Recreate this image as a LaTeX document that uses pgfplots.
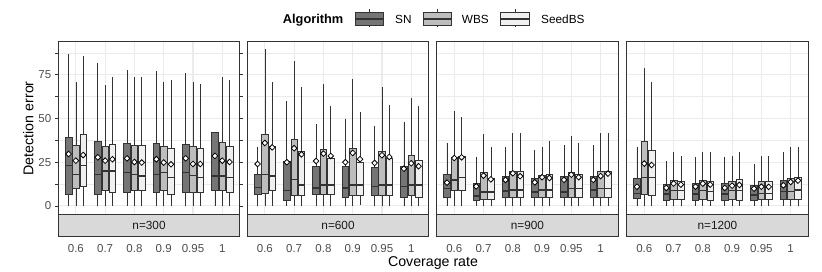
\documentclass[border=0pt]{standalone}
\usepackage{pgfplots}
\pgfplotsset{compat=1.18}
\usepgfplotslibrary{statistics}
\usepackage{fontspec}
\setmainfont{Liberation Sans}
\definecolor{gTwenty}{HTML}{333333}
\definecolor{gThirty}{HTML}{4D4D4D}
\definecolor{gGrid}{HTML}{EBEBEB}
\definecolor{gStrip}{HTML}{D9D9D9}
\definecolor{gTen}{HTML}{1A1A1A}
\definecolor{cSN}{HTML}{757575}
\definecolor{cWBS}{HTML}{BDBDBD}
\definecolor{cSeed}{HTML}{F0F0F0}
% position, fill, lower whisker, lower quartile, median, upper quartile, upper whisker
\newcommand{\bx}[7]{\addplot[draw=gTwenty, fill=#2, line width=0.65pt, boxplot prepared={draw direction=y, draw position=#1, lower whisker=#3, lower quartile=#4, median=#5, upper quartile=#6, upper whisker=#7, box extend=0.225, whisker extend=0}] coordinates {};}
\newcommand{\means}[1]{\addplot[only marks, mark=square*, mark size=2.0pt, mark options={rotate=45, fill=white, draw=black, line width=0.8pt}] coordinates {#1};}
\newcommand{\strip}[1]{%
  \draw[fill=gStrip, draw=gTwenty, line width=0.75pt] (rel axis cs:0,0) rectangle ([yshift=-22pt]rel axis cs:1,0);
  \node[font=\fontsize{11.8}{13}\selectfont, text=gTen, inner sep=0pt] at ([yshift=-11pt]rel axis cs:0.5,0) {#1};}
\pgfplotsset{panel/.style={
  scale only axis, width=181.5pt, height=172.3pt,
  anchor=south west,
  xmin=0.4, xmax=6.6, ymin=-4.6, ymax=93.9,
  xtick={1,2,3,4,5,6}, xticklabels={0.6,0.7,0.8,0.9,0.95,1},
  ytick={0,25,50,75}, minor ytick={12.5,37.5,62.5,87.5},
  grid=both,
  major grid style={draw=gGrid, line width=1.1pt},
  minor grid style={draw=gGrid, line width=0.55pt},
  axis line style={draw=gTwenty, line width=0.75pt},
  tick align=outside, major tick length=3.5pt,
  xtick style={draw=none},
  ytick style={draw=gTwenty, line width=0.75pt},
  /pgf/number format/assume math mode=true,
  ticklabel style={font=\fontsize{11.5}{13}\selectfont, text=gThirty},
  xticklabel style={anchor=base, yshift=-34.9pt},
  clip=false,
  boxplot/draw direction=y,
  boxplot/every median/.style={line width=1.4pt},
}}
\newcommand{\legkey}[2]{%
  \draw[gTwenty, line width=0.65pt] (#1+14.1pt,244.7pt) -- (#1+14.1pt,262.7pt);
  \draw[gTwenty, fill=#2, line width=0.65pt] (#1,247pt) rectangle (#1+28.2pt,259.3pt);
  \draw[gTwenty, line width=1.2pt] (#1,253pt) -- (#1+28.2pt,253pt);}
\begin{document}
\begin{tikzpicture}
\path[use as bounding box] (0,0) rectangle (822pt,272pt);
% ---------- n=300
\begin{axis}[panel, at={(58.3pt,58pt)}]
\strip{n=300}
\bx{0.75}{cSN}{0}{6.7}{23.0}{39.2}{86.9}
\bx{1.00}{cWBS}{0}{10.1}{17.9}{34.9}{70.7}
\bx{1.25}{cSeed}{0}{11.0}{23.0}{40.8}{85.7}
\bx{1.75}{cSN}{0}{6.7}{17.9}{37.1}{81.9}
\bx{2.00}{cWBS}{0}{9.0}{20.0}{33.9}{69.0}
\bx{2.25}{cSeed}{0}{7.8}{20.0}{35.2}{73.7}
\bx{2.75}{cSN}{0}{7.8}{19.0}{36.0}{77.8}
\bx{3.00}{cWBS}{0}{9.0}{17.9}{34.9}{73.7}
\bx{3.25}{cSeed}{0}{9.0}{17.1}{34.9}{73.7}
\bx{3.75}{cSN}{0}{7.8}{17.9}{36.0}{77.0}
\bx{4.00}{cWBS}{0}{9.0}{19.0}{33.9}{70.7}
\bx{4.25}{cSeed}{0}{6.7}{16.2}{33.0}{72.0}
\bx{4.75}{cSN}{0}{7.8}{19.0}{35.2}{75.8}
\bx{5.00}{cWBS}{0}{7.8}{17.5}{33.9}{70.7}
\bx{5.25}{cSeed}{0}{7.8}{16.2}{33.0}{69.8}
\bx{5.75}{cSN}{0}{9.0}{17.1}{42.1}{42.1}
\bx{6.00}{cWBS}{0}{9.0}{17.1}{36.2}{73.7}
\bx{6.25}{cSeed}{0}{7.8}{16.2}{33.9}{72.0}
\means{(0.75,29.7)(1.00,25.9)(1.25,29.1)(1.75,27.8)(2.00,25.9)(2.25,26.7)(2.75,27.2)(3.00,25.1)(3.25,24.8)(3.75,26.7)(4.00,24.8)(4.25,23.8)(4.75,27.2)(5.00,24.0)(5.25,24.0)(5.75,28.6)(6.00,25.9)(6.25,25.1)}
\end{axis}
% ---------- n=600
\begin{axis}[panel, at={(247.3pt,58pt)}, yticklabels={}, ytick style={draw=none}]
\strip{n=600}
\bx{0.75}{cSN}{0}{6.9}{10.5}{17.9}{33.9}
\bx{1.00}{cWBS}{0}{7.2}{17.9}{40.8}{89.5}
\bx{1.25}{cSeed}{0}{9.0}{17.1}{33.9}{70.7}
\bx{1.75}{cSN}{0}{3.0}{9.0}{25.7}{59.8}
\bx{2.00}{cWBS}{0}{5.9}{15.2}{38.1}{82.7}
\bx{2.25}{cSeed}{0}{5.9}{12.0}{31.2}{67.8}
\bx{2.75}{cSN}{0}{6.9}{10.3}{22.9}{46.9}
\bx{3.00}{cWBS}{0}{6.9}{12.0}{32.6}{69.9}
\bx{3.25}{cSeed}{0}{6.9}{12.0}{27.0}{57.0}
\bx{3.75}{cSN}{0}{5.1}{10.3}{22.9}{49.9}
\bx{4.00}{cWBS}{0}{6.2}{12.0}{33.0}{72.8}
\bx{4.25}{cSeed}{0.5}{6.2}{12.0}{25.1}{53.9}
\bx{4.75}{cSN}{0}{6.2}{11.2}{22.1}{45.7}
\bx{5.00}{cWBS}{0}{6.2}{12.0}{31.2}{67.8}
\bx{5.25}{cSeed}{0}{6.2}{12.0}{27.0}{57.9}
\bx{5.75}{cSN}{0}{5.1}{11.2}{22.9}{47.8}
\bx{6.00}{cWBS}{0}{6.2}{12.0}{29.0}{61.7}
\bx{6.25}{cSeed}{0}{5.1}{12.0}{26.1}{57.0}
\means{(0.75,24.0)(1.00,36.0)(1.25,33.5)(1.75,25.0)(2.00,33.0)(2.25,29.5)(2.75,25.7)(3.00,29.9)(3.25,28.6)(3.75,25.0)(4.00,30.3)(4.25,26.7)(4.75,24.6)(5.00,29.0)(5.25,28.0)(5.75,21.3)(6.00,24.4)(6.25,22.7)}
\end{axis}
% ---------- n=900
\begin{axis}[panel, at={(436.7pt,58pt)}, yticklabels={}, ytick style={draw=none}]
\strip{n=900}
\bx{0.75}{cSN}{0}{5.0}{10.1}{18.1}{36.0}
\bx{1.00}{cWBS}{0}{9.1}{14.9}{28.0}{54.1}
\bx{1.25}{cSeed}{0}{9.1}{16.4}{28.4}{50.7}
\bx{1.75}{cSN}{0}{3.0}{5.7}{13.0}{27.8}
\bx{2.00}{cWBS}{0}{4.0}{8.0}{19.0}{40.9}
\bx{2.25}{cSeed}{0}{4.0}{8.0}{16.0}{33.7}
\bx{2.75}{cSN}{0}{5.0}{8.6}{17.0}{33.7}
\bx{3.00}{cWBS}{0}{5.0}{9.1}{20.0}{41.7}
\bx{3.25}{cSeed}{0}{5.0}{9.1}{20.0}{41.7}
\bx{3.75}{cSN}{0}{5.0}{8.0}{16.0}{31.8}
\bx{4.00}{cWBS}{0}{5.0}{9.1}{17.5}{33.7}
\bx{4.25}{cSeed}{0}{5.0}{9.1}{18.1}{37.0}
\bx{4.75}{cSN}{0}{5.0}{8.0}{17.0}{34.7}
\bx{5.00}{cWBS}{0}{5.0}{10.1}{19.0}{39.8}
\bx{5.25}{cSeed}{0}{5.0}{10.1}{18.1}{35.8}
\bx{5.75}{cSN}{0}{5.0}{9.1}{17.0}{34.7}
\bx{6.00}{cWBS}{0}{5.0}{10.1}{20.0}{41.7}
\bx{6.25}{cSeed}{0}{5.0}{10.1}{20.0}{41.7}
\means{(0.75,13.3)(1.00,27.4)(1.25,27.8)(1.75,11.2)(2.00,17.3)(2.25,15.2)(2.75,14.9)(3.00,18.7)(3.25,17.0)(3.75,13.5)(4.00,16.4)(4.25,16.0)(4.75,14.9)(5.00,17.9)(5.25,16.4)(5.75,14.9)(6.00,17.1)(6.25,18.5)}
\end{axis}
% ---------- n=1200
\begin{axis}[panel, at={(626.7pt,58pt)}, yticklabels={}, ytick style={draw=none}]
\strip{n=1200}
\bx{0.75}{cSN}{0}{4.2}{7.2}{16.0}{33.7}
\bx{1.00}{cWBS}{0}{6.7}{16.2}{37.0}{78.9}
\bx{1.25}{cSeed}{0}{6.1}{16.2}{32.0}{70.9}
\bx{1.75}{cSN}{0}{3.0}{6.9}{12.6}{25.9}
\bx{2.00}{cWBS}{0}{4.0}{9.0}{14.9}{30.7}
\bx{2.25}{cSeed}{0}{4.0}{9.0}{14.1}{28.8}
\bx{2.75}{cSN}{0}{3.0}{6.9}{13.0}{27.8}
\bx{3.00}{cWBS}{0}{4.0}{9.0}{14.9}{30.7}
\bx{3.25}{cSeed}{0}{3.0}{8.2}{14.1}{30.7}
\bx{3.75}{cSN}{0}{3.0}{6.9}{13.0}{27.8}
\bx{4.00}{cWBS}{0}{4.0}{9.0}{14.1}{28.8}
\bx{4.25}{cSeed}{0}{3.0}{9.0}{15.2}{30.7}
\bx{4.75}{cSN}{0}{3.0}{6.3}{11.8}{23.8}
\bx{5.00}{cWBS}{0}{4.0}{7.2}{14.0}{28.8}
\bx{5.25}{cSeed}{0}{4.0}{7.2}{14.0}{28.8}
\bx{5.75}{cSN}{0}{4.0}{8.2}{14.9}{30.7}
\bx{6.00}{cWBS}{0}{4.0}{8.2}{16.0}{33.7}
\bx{6.25}{cSeed}{0}{4.0}{9.1}{16.4}{33.7}
\means{(0.75,11.0)(1.00,24.2)(1.25,23.4)(1.75,10.3)(2.00,12.8)(2.25,12.2)(2.75,11.0)(3.00,12.8)(3.25,12.2)(3.75,10.3)(4.00,11.6)(4.25,12.0)(4.75,9.9)(5.00,11.0)(5.25,10.9)(5.75,11.8)(6.00,13.7)(6.25,14.5)}
\end{axis}
% ---------- titles
\node[anchor=base, inner sep=0pt, font=\fontsize{14.2}{16}\selectfont] at (433pt,5.3pt) {Coverage rate};
\node[rotate=90, anchor=base, inner sep=0pt, font=\fontsize{14.2}{16}\selectfont] at (33.3pt,143.7pt) {Detection error};
% ---------- legend
\node[anchor=base west, inner sep=0pt, font=\fontsize{12.8}{14}\selectfont\bfseries] at (282.7pt,248pt) {Algorithm};
\legkey{355.5pt}{cSN}
\legkey{422.9pt}{cWBS}
\legkey{500.8pt}{cSeed}
\node[anchor=base west, inner sep=0pt, font=\fontsize{11.8}{13}\selectfont] at (395pt,248.5pt) {SN};
\node[anchor=base west, inner sep=0pt, font=\fontsize{11.8}{13}\selectfont] at (461.7pt,248.5pt) {WBS};
\node[anchor=base west, inner sep=0pt, font=\fontsize{11.8}{13}\selectfont] at (541pt,248.5pt) {SeedBS};
\end{tikzpicture}
\end{document}
